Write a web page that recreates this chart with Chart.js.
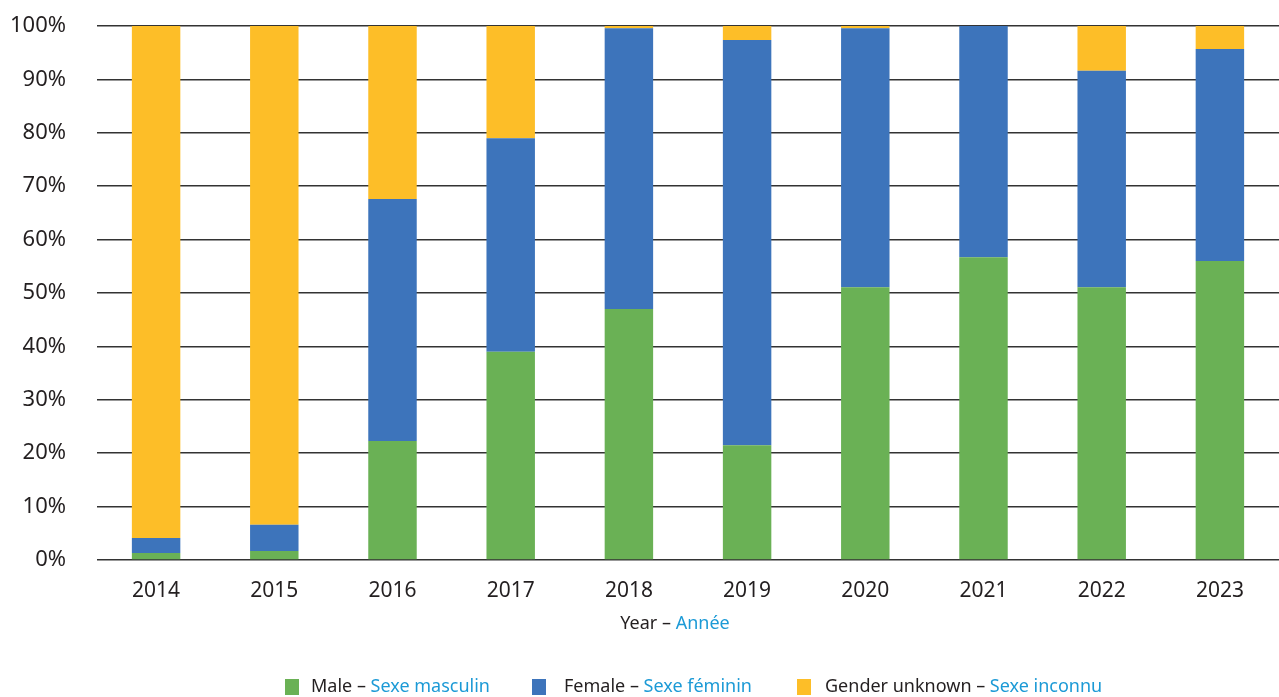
<!DOCTYPE html>
<html>
<head>
<meta charset="utf-8">
<script src="https://cdn.jsdelivr.net/npm/chart.js@4"></script>
<style>
  body { margin: 0; background: #fff; }
  #wrap { width: 1279px; height: 697px; }
</style>
</head>
<body>
<div id="wrap"><canvas id="chart" width="1279" height="697"></canvas></div>
<script>
const years = ['2014', '2015', '2016', '2017', '2018', '2019', '2020', '2021', '2022', '2023'];
const male = [1.3, 1.7, 22.3, 39.0, 47.0, 21.5, 51.1, 56.7, 51.1, 56.0];
const female = [2.8, 4.9, 45.3, 40.0, 52.6, 75.9, 48.5, 43.3, 40.5, 39.7];
const unknown = [95.9, 93.4, 32.4, 21.0, 0.4, 2.6, 0.4, 0.0, 8.4, 4.3];
const yTicks = [0, 10, 20, 30, 40, 50, 60, 70, 80, 90, 100];

const legendItems = [
    { en: 'Male', fr: 'Sexe masculin', color: '#6ab155', box: 285, text: 311 },
    { en: 'Female', fr: 'Sexe féminin', color: '#3d74bb', box: 532, text: 564 },
    { en: 'Gender unknown', fr: 'Sexe inconnu', color: '#fdbe28', box: 797, text: 825 }
];

const FONT = '"Noto Sans", sans-serif';
const DARK = '#231f20';
const BLUE_TXT = '#1c9ad6';

// draws a two-colour piece of text: "en – " dark, fr blue
function drawPair(ctx, x, y, en, fr) {
    ctx.fillStyle = DARK;
    const first = en + ' – ';
    ctx.fillText(first, x, y);
    const w = ctx.measureText(first).width;
    ctx.fillStyle = BLUE_TXT;
    ctx.fillText(fr, x + w, y);
    return w + ctx.measureText(fr).width;
}

const extrasPlugin = {
    id: 'extras',
    afterDraw(chart) {
        const ctx = chart.ctx;
        ctx.save();
        ctx.textBaseline = 'middle';
        ctx.textAlign = 'left';

        // x axis title
        ctx.font = '18px ' + FONT;
        const tw = ctx.measureText('Year – Année').width;
        drawPair(ctx, 675 - tw / 2, 624, 'Year', 'Année');

        // legend
        const box = 14, y = 687;
        legendItems.forEach(it => {
            ctx.fillStyle = it.color;
            ctx.fillRect(it.box, y - box / 2 - 1, box, box + 2);
            drawPair(ctx, it.text, y, it.en, it.fr);
        });
        ctx.restore();
    }
};

new Chart(document.getElementById('chart').getContext('2d'), {
    type: 'bar',
    data: {
        labels: years,
        datasets: [
            { label: 'Male – Sexe masculin', data: male, backgroundColor: '#6ab155' },
            { label: 'Female – Sexe féminin', data: female, backgroundColor: '#3d74bb' },
            { label: 'Gender unknown – Sexe inconnu', data: unknown, backgroundColor: '#fdbe28' }
        ]
    },
    options: {
        responsive: false,
        animation: false,
        layout: { padding: { top: 26, right: 0, bottom: 88, left: 0 } },
        datasets: { bar: { categoryPercentage: 1, barPercentage: 0.41 } },
        plugins: { legend: { display: false }, tooltip: { enabled: false } },
        scales: {
            x: {
                stacked: true,
                grid: { display: false },
                border: { display: false },
                ticks: { color: DARK, font: { family: FONT, size: 21 }, padding: 10 },
                afterFit: scale => { scale.height = 49; scale.paddingTop = 0; scale.paddingBottom = 0; }
            },
            y: {
                stacked: true,
                min: 0,
                max: 100,
                afterBuildTicks: scale => { scale.ticks = yTicks.map(v => ({ value: v })); },
                afterFit: scale => { scale.width = 97; scale.paddingTop = 0; scale.paddingBottom = 0; },
                grid: { color: '#333333', lineWidth: 1.6, drawTicks: false },
                border: { display: false },
                ticks: {
                    color: DARK,
                    font: { family: FONT, size: 22 },
                    padding: 31,
                    callback: v => v + '%'
                }
            }
        }
    },
    plugins: [extrasPlugin]
});
</script>
</body>
</html>
